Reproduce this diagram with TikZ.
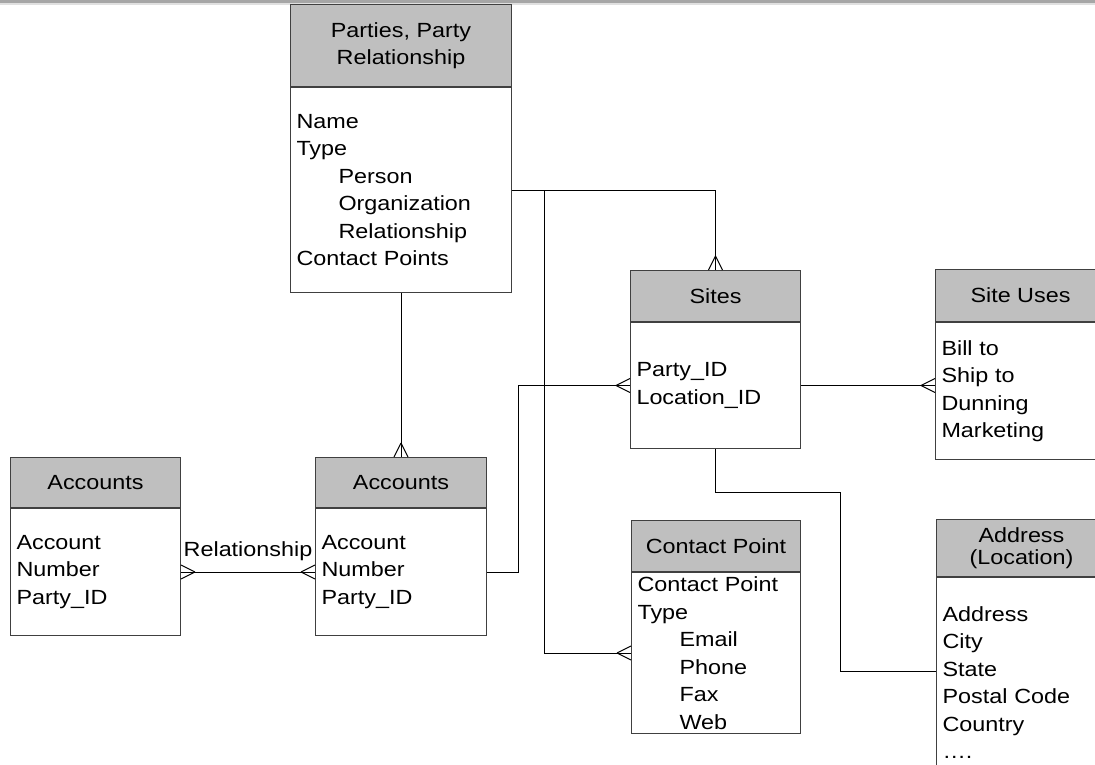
\documentclass[tikz,border=0pt]{standalone}
\usepackage{fontspec}
\setmainfont{Liberation Sans}[FakeStretch=1.14]
\usetikzlibrary{positioning}

\tikzset{
  entity/.style={draw=black!75, line width=1pt, inner sep=0pt,
    font=\fontsize{20.5}{27.5}\selectfont},
  head/.style={entity, fill=black!25, align=center},
  body/.style={entity, fill=white, align=left, inner xsep=6pt, inner ysep=0pt},
  link/.style={line width=1pt},
  crow/.pic={\draw[link] (14,0) -- (0,7) (14,0) -- (0,-7);}
}

\begin{document}
\begin{tikzpicture}[x=1pt,y=-1pt,line cap=butt,line join=miter]
  \useasboundingbox (0,0) rectangle (1095,764);
  \clip (0,0) rectangle (1095,764);
  \def\ind{\hspace*{42pt}}

  % Window edge
  \fill[black!35] (0,0) rectangle (1095,3);
  \fill[black!12] (0,3) rectangle (1095,5);

  % Parties
  \node[head, anchor=north west, minimum width=221pt, minimum height=82pt] (partiesH) at (290,4) {Parties, Party\\Relationship};
  \node[body, below=0pt of partiesH, text width=209pt, minimum height=205pt] (parties)
    {Name\\Type\\\ind Person\\\ind Organization\\\ind Relationship\\Contact Points};

  % Sites
  \node[head, anchor=north west, minimum width=170pt, minimum height=51pt] (sitesH) at (630,270) {Sites};
  \node[body, below=0pt of sitesH, text width=158pt, minimum height=126pt] (sites)
    {Party\_ID\\Location\_ID};

  % Site uses
  \node[head, anchor=north west, minimum width=170pt, minimum height=52pt] (siteusesH) at (935,269) {Site Uses};
  \node[body, below=0pt of siteusesH, text width=158pt, minimum height=137pt] (siteuses)
    {Bill to\\Ship to\\Dunning\\Marketing};

  % Accounts
  \node[head, anchor=north west, minimum width=170pt, minimum height=50pt] (accAH) at (10,457) {Accounts};
  \node[body, below=0pt of accAH, text width=158pt, minimum height=127pt] (accA)
    {Account\\Number\\Party\_ID};
  \node[head, anchor=north west, minimum width=171pt, minimum height=50pt] (accBH) at (315,457) {Accounts};
  \node[body, below=0pt of accBH, text width=159pt, minimum height=127pt] (accB)
    {Account\\Number\\Party\_ID};

  % Contact point
  \node[head, anchor=north west, minimum width=169pt, minimum height=51pt] (contactH) at (631,520) {Contact Point};
  \node[body, below=0pt of contactH, text width=157pt, minimum height=161pt] (contact)
    {Contact Point\\Type\\\ind Email\\\ind Phone\\\ind Fax\\\ind Web};

  % Address
  \node[head, anchor=north west, minimum width=170pt, minimum height=57pt,
    font=\fontsize{20.5}{22}\selectfont] (addressH) at (936,519) {\raisebox{-3pt}{Address}\\\raisebox{-3pt}{(Location)}};
  \node[body, below=0pt of addressH, text width=158pt, minimum height=210pt] (address)
    {Address\\City\\State\\Postal Code\\Country\\\ldots.};

  % Connectors
  \coordinate (cpjoin) at ([xshift=32pt]parties.east);
  \coordinate (locbend) at (840,492);
  \draw[link] (parties.east) -- (sitesH.north |- parties.east) -- (sitesH.north);
  \draw[link] (cpjoin) |- (contact.west);
  \draw[link] (parties.south) -- (accBH.north);
  \draw[link] (accB.east) -- ++(31,0) |- (sites.west);
  \draw[link] (sites.east) -- (sites.east -| siteuses.west);
  \draw[link] (sites.south) |- (locbend) |- ([yshift=11pt]address.west);
  \draw[link] (accA.east) -- node[anchor=base, yshift=16pt, font=\fontsize{20.5}{27.5}\selectfont] (rel) {Relationship} (accB.west);

  % Crow's feet
  \pic[rotate=90] at (sitesH.north) {crow};
  \pic[rotate=90] at (accBH.north) {crow};
  \pic[rotate=180] at (contact.west) {crow};
  \pic[rotate=180] at (sites.west) {crow};
  \pic[rotate=180] at (sites.east -| siteuses.west) {crow};
  \pic[rotate=0] at (accA.east) {crow};
  \pic[rotate=180] at (accB.west) {crow};
\end{tikzpicture}
\end{document}
